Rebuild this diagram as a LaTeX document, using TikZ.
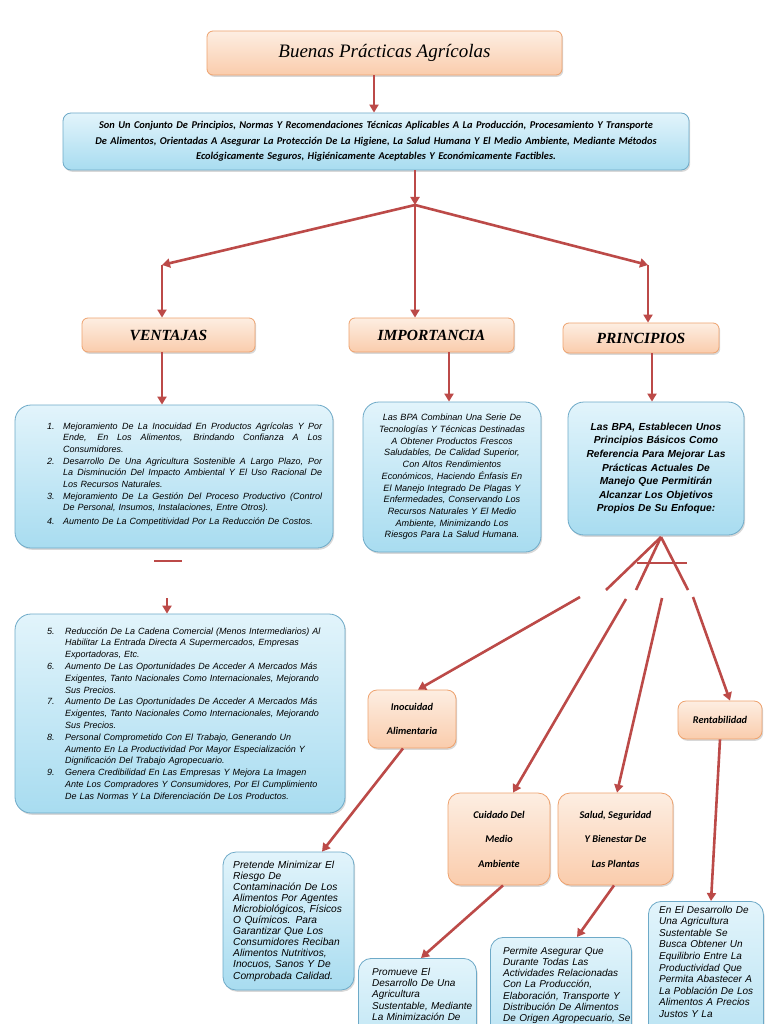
\documentclass[tikz,border=0pt]{standalone}
\usepackage{fontspec}
\usetikzlibrary{arrows.meta,shadows}
\newfontfamily\arialf{Liberation Sans}
\newfontfamily\calf{Carlito}
\newfontfamily\serf{Liberation Serif}
\definecolor{pktop}{RGB}{253,238,226}
\definecolor{pkbot}{RGB}{250,204,172}
\definecolor{pkline}{RGB}{238,162,110}
\definecolor{bltop}{RGB}{226,244,251}
\definecolor{blbot}{RGB}{168,220,240}
\definecolor{blline}{RGB}{110,170,200}
\definecolor{redl}{RGB}{188,74,72}
\newlength{\hang}
\newcommand{\numitem}[2]{\noindent\hangindent=\hang\hangafter=1\makebox[\hang][l]{#1}#2\par}
\newcommand{\jl}[1]{\hbox to 259pt{\spaceskip=0.278em plus 3em\relax #1}}
\newcommand{\nl}{\newline}
\begin{document}
\begin{tikzpicture}[x=1pt,y=-1pt,
  shd/.style={drop shadow={shadow xshift=1.2pt,shadow yshift=-1.8pt,opacity=0.3}},
  pbox/.style={draw=pkline,line width=0.8pt,rounded corners=6pt,top color=pktop,bottom color=pkbot,shd,inner sep=0pt},
  bbox/.style={draw=blline,line width=0.8pt,rounded corners=16pt,top color=bltop,bottom color=blbot,shd,inner sep=0pt},
  hdr/.style={font={\serf\bfseries\itshape\fontsize{15.5}{17}\selectfont}},
  sml/.style={align=center,font={\calf\bfseries\itshape\fontsize{10.3}{24.5}\selectfont}},
  conn/.style={draw=redl,line width=2.6pt},
  arr/.style={conn,-{Triangle[width=9pt,length=8pt]}},
  txt/.style={inner sep=0pt,anchor=base west,align=left},
  btxt/.style={txt,font={\arialf\itshape\fontsize{10.2}{11.1}\selectfont}}]
\useasboundingbox (0,0) rectangle (768,1024);
\clip (0,0) rectangle (768,1024);
\fill[white] (0,0) rectangle (768,1024);

% coordinates for connector x positions
\coordinate (x374) at (374,0);
\coordinate (j) at (415,205);
\coordinate (jl) at (162,265);
\coordinate (jr) at (648,265);
\coordinate (x449) at (449,0);
\coordinate (x652) at (652,0);

% boxes
\node[pbox,minimum width=355pt,minimum height=44pt,font={\serf\itshape\fontsize{19}{21}\selectfont}] (title) at (384.5,53) {Buenas Prácticas Agrícolas};

\node[bbox,rounded corners=8pt,minimum width=626pt,minimum height=57pt,text width=616pt,align=center,font={\calf\bfseries\itshape\fontsize{10.4}{15.5}\selectfont}] (def) at (376,141.5)
{Son Un Conjunto De Principios, Normas Y Recomendaciones Técnicas Aplicables A La Producción, Procesamiento Y Transporte\\ De Alimentos, Orientadas A Asegurar La Protección De La Higiene, La Salud Humana Y El Medio Ambiente, Mediante Métodos\\ Ecológicamente Seguros, Higiénicamente Aceptables Y Económicamente Factibles.};

\node[pbox,hdr,minimum width=173pt,minimum height=34pt] (vent) at (168.5,335) {VENTAJAS};
\node[pbox,hdr,minimum width=165pt,minimum height=34pt] (imp) at (431.5,335) {IMPORTANCIA};
\node[pbox,hdr,minimum width=156pt,minimum height=30pt] (prin) at (641,338) {PRINCIPIOS};

\node[bbox,minimum width=318pt,minimum height=143pt] (ventbox) at (174,476.5) {};
\node[txt,text width=276pt,font={\arialf\itshape\fontsize{9}{11.7}\selectfont}] (venttxt) at (47,429) {\setlength{\hang}{16pt}%
\numitem{1.}{\jl{Mejoramiento De La Inocuidad En Productos Agrícolas Y Por}\nl\jl{Ende, En Los Alimentos, Brindando Confianza A Los}\nl Consumidores.}
\numitem{2.}{\jl{Desarrollo De Una Agricultura Sostenible A Largo Plazo, Por}\nl\jl{La Disminución Del Impacto Ambiental Y El Uso Racional De}\nl Los Recursos Naturales.}
\numitem{3.}{\jl{Mejoramiento De La Gestión Del Proceso Productivo (Control}\nl De Personal, Insumos, Instalaciones, Entre Otros).}
\vspace{1.5pt}
\numitem{4.}{Aumento De La Competitividad Por La Reducción De Costos.}};

\node[bbox,minimum width=178pt,minimum height=150pt,text width=176pt,align=center,font={\arialf\itshape\fontsize{9.1}{11.7}\selectfont}] (impbox) at (452,477)
{Las BPA Combinan Una Serie De\\Tecnologías Y Técnicas Destinadas\\A Obtener Productos Frescos\\Saludables, De Calidad Superior,\\Con Altos Rendimientos\\Económicos, Haciendo Énfasis En\\El Manejo Integrado De Plagas Y\\Enfermedades, Conservando Los\\Recursos Naturales Y El Medio\\Ambiente, Minimizando Los\\Riesgos Para La Salud Humana.};

\node[bbox,minimum width=176pt,minimum height=133pt,text width=174pt,align=center,font={\arialf\bfseries\itshape\fontsize{10.2}{13.6}\selectfont}] (prinbox) at (656,468.5)
{Las BPA, Establecen Unos\\Principios Básicos Como\\Referencia Para Mejorar Las\\Prácticas Actuales De\\Manejo Que Permitirán\\Alcanzar Los Objetivos\\Propios De Su Enfoque:};

\node[bbox,minimum width=330pt,minimum height=199pt] (list2) at (180,713.5) {};
\node[txt,text width=300pt,font={\arialf\itshape\fontsize{9}{11.8}\selectfont}] (list2txt) at (47,634) {\setlength{\hang}{18pt}%
\numitem{5.}{Reducción De La Cadena Comercial (Menos Intermediarios) Al\nl Habilitar La Entrada Directa A Supermercados, Empresas\nl Exportadoras, Etc.}
\numitem{6.}{Aumento De Las Oportunidades De Acceder A Mercados Más\nl Exigentes, Tanto Nacionales Como Internacionales, Mejorando\nl Sus Precios.}
\numitem{7.}{Aumento De Las Oportunidades De Acceder A Mercados Más\nl Exigentes, Tanto Nacionales Como Internacionales, Mejorando\nl Sus Precios.}
\numitem{8.}{Personal Comprometido Con El Trabajo, Generando Un\nl Aumento En La Productividad Por Mayor Especialización Y\nl Dignificación Del Trabajo Agropecuario.}
\numitem{9.}{Genera Credibilidad En Las Empresas Y Mejora La Imagen\nl Ante Los Compradores Y Consumidores, Por El Cumplimiento\nl De Las Normas Y La Diferenciación De Los Productos.}};

\node[pbox,sml,rounded corners=9pt,minimum width=88pt,minimum height=58pt] (ino) at (412,719) {Inocuidad\\Alimentaria};
\node[pbox,sml,rounded corners=8pt,minimum width=84pt,minimum height=38pt] (rent) at (720,720) {Rentabilidad};
\node[pbox,sml,rounded corners=12pt,minimum width=102pt,minimum height=92pt] (cui) at (499,839) {Cuidado Del\\Medio\\Ambiente};
\node[pbox,sml,rounded corners=12pt,minimum width=115pt,minimum height=92pt] (sal) at (615.5,839) {Salud, Seguridad\\Y Bienestar De\\Las Plantas};

\node[bbox,rounded corners=13pt,minimum width=131pt,minimum height=138pt] (pre) at (288.5,921) {};
\node[btxt,text width=125pt] (pretxt) at (233,868) {Pretende Minimizar El\\Riesgo De\\Contaminación De Los\\Alimentos Por Agentes\\Microbiológicos, Físicos\\O Químicos. Para\\Garantizar Que Los\\Consumidores Reciban\\Alimentos Nutritivos,\\Inocuos, Sanos Y De\\Comprobada Calidad.};

\node[bbox,rounded corners=13pt,anchor=north west,minimum width=118pt,minimum height=150pt] (pro) at (358,958) {};
\node[btxt,text width=110pt,font={\arialf\itshape\fontsize{10}{11.4}\selectfont}] (protxt) at (372,975) {Promueve El\\Desarrollo De Una\\Agricultura\\Sustentable, Mediante\\La Minimización De};

\node[bbox,rounded corners=13pt,anchor=north west,minimum width=141pt,minimum height=150pt] (per) at (490,937) {};
\node[btxt,text width=135pt,font={\arialf\itshape\fontsize{10}{11.3}\selectfont}] (pertxt) at (503,954) {Permite Asegurar Que\\Durante Todas Las\\Actividades Relacionadas\\Con La Producción,\\Elaboración, Transporte Y\\Distribución De Alimentos\\De Origen Agropecuario, Se};

\node[bbox,rounded corners=13pt,anchor=north west,minimum width=115pt,minimum height=200pt] (rtx) at (648,901) {};
\node[btxt,text width=105pt,font={\arialf\itshape\fontsize{10}{11.6}\selectfont}] (rtxtxt) at (659,913) {En El Desarrollo De\\Una Agricultura\\Sustentable Se\\Busca Obtener Un\\Equilibrio Entre La\\Productividad Que\\Permita Abastecer A\\La Población De Los\\Alimentos A Precios\\Justos Y La};

% connectors
\draw[arr] (title.south -| x374) -- (def.north -| x374);
\draw[arr] (def.south -| j) -- (j);
\draw[arr] (j) -- (jl);
\draw[arr] (j) -- (jr);
\draw[arr] (jl) -- (vent.north -| jl);
\draw[arr] (j) -- (imp.north -| j);
\draw[arr] (jr) -- (prin.north -| jr);
\draw[arr] (vent.south -| jl) -- (ventbox.north -| jl);
\draw[arr] (imp.south -| x449) -- (impbox.north -| x449);
\draw[arr] (prin.south -| x652) -- (prinbox.north -| x652);

\coordinate (b1) at (154,561);
\coordinate (b2) at (182,561);
\draw[redl,line width=2.2pt] (b1) -- (b2);
\coordinate (a1) at (167,598);
\draw[arr] (a1) -- (list2.north -| a1);

\coordinate (ap) at (661,537);
\coordinate (e1) at (606,590);
\coordinate (e2) at (636,590);
\coordinate (e3) at (688,590);
\coordinate (h1) at (637,563);
\coordinate (h2) at (687,563);
\draw[conn] (ap) -- (e1);
\draw[conn] (ap) -- (e2);
\draw[conn] (ap) -- (e3);
\draw[conn] (h1) -- (h2);

\coordinate (s1) at (580,597);
\coordinate (s2) at (626,599);
\coordinate (s3) at (662,598);
\coordinate (s4) at (693,597);
\coordinate (t1) at (418,0);
\coordinate (t2) at (513,0);
\coordinate (t3) at (617,0);
\coordinate (t4) at (730,0);
\draw[arr] (s1) -- (ino.north -| t1);
\draw[arr] (s2) -- (cui.north -| t2);
\draw[arr] (s3) -- (sal.north -| t3);
\draw[arr] (s4) -- (rent.north -| t4);

\coordinate (u1) at (403,0);
\coordinate (v1) at (322,0);
\coordinate (u2) at (503,0);
\coordinate (v2) at (421,0);
\coordinate (u3) at (614,0);
\coordinate (v3) at (577,0);
\coordinate (u4) at (720,0);
\coordinate (v4) at (711,0);
\draw[arr] (ino.south -| u1) -- (pre.north -| v1);
\draw[arr] (cui.south -| u2) -- (pro.north -| v2);
\draw[arr] (sal.south -| u3) -- (per.north -| v3);
\draw[arr] (rent.south -| u4) -- (rtx.north -| v4);
\end{tikzpicture}
\end{document}
